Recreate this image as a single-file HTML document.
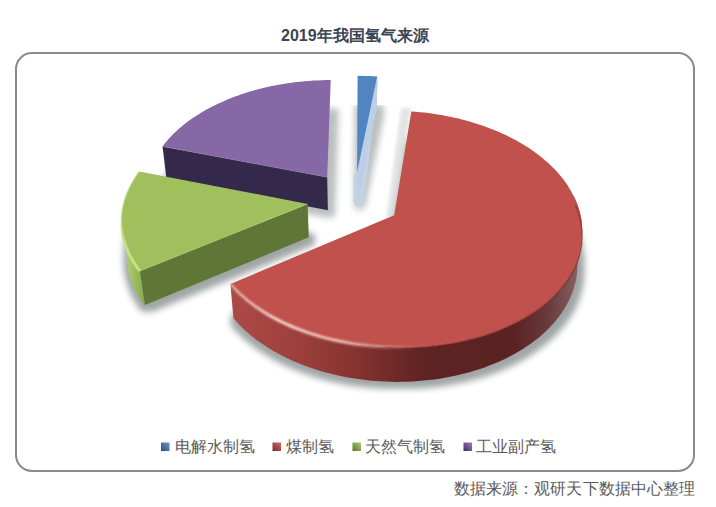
<!DOCTYPE html>
<html><head><meta charset="utf-8"><style>
html,body{margin:0;padding:0;background:#fff;}
body{width:716px;height:507px;position:relative;overflow:hidden;font-family:"Liberation Sans",sans-serif;}
.t{position:absolute;white-space:nowrap;line-height:1;}
.lg{font-size:16px;color:#5a5a5a;top:439px;}
</style></head><body>

<svg width="716" height="507" viewBox="0 0 716 507" style="position:absolute;left:0;top:0">
<defs>
 <filter id="sh" x="-30%" y="-30%" width="160%" height="160%"><feMorphology operator="dilate" radius="4.5"/><feGaussianBlur stdDeviation="3.2"/></filter>
 <filter id="bl1" x="-20%" y="-20%" width="140%" height="140%"><feGaussianBlur stdDeviation="0.7"/></filter>
 <filter id="bl3" x="-20%" y="-20%" width="140%" height="140%"><feGaussianBlur stdDeviation="0.9"/></filter>
 <filter id="bl2" x="-50%" y="-20%" width="200%" height="140%"><feGaussianBlur stdDeviation="1.5"/></filter>
 <clipPath id="shclip"><rect x="0" y="105" width="716" height="403"/></clipPath>
 <linearGradient id="redw" gradientUnits="userSpaceOnUse" x1="230" y1="0" x2="585" y2="0">
  <stop offset="0" stop-color="#ac4a46"/>
  <stop offset="0.2" stop-color="#9c3f3c"/>
  <stop offset="0.35" stop-color="#86332f"/>
  <stop offset="0.55" stop-color="#5e2322"/>
  <stop offset="0.8" stop-color="#5a2222"/>
  <stop offset="0.9" stop-color="#6a3c3c"/>
  <stop offset="1" stop-color="#8c6a6a"/>
 </linearGradient>
 <linearGradient id="redrim" gradientUnits="userSpaceOnUse" x1="230" y1="0" x2="420" y2="0">
  <stop offset="0" stop-color="#ffd8d0" stop-opacity="0.5"/>
  <stop offset="0.25" stop-color="#ffe0d8" stop-opacity="0.95"/>
  <stop offset="0.6" stop-color="#ffd8d0" stop-opacity="0.8"/>
  <stop offset="1" stop-color="#ffd0c8" stop-opacity="0"/>
 </linearGradient>
 <linearGradient id="greenrim" gradientUnits="userSpaceOnUse" x1="0" y1="215" x2="0" y2="272">
  <stop offset="0" stop-color="#c4e08a" stop-opacity="0"/>
  <stop offset="0.5" stop-color="#c8e490" stop-opacity="0.8"/>
  <stop offset="1" stop-color="#c8e490" stop-opacity="0.9"/>
 </linearGradient>
 <linearGradient id="greencw" gradientUnits="userSpaceOnUse" x1="122" y1="0" x2="145" y2="0">
  <stop offset="0" stop-color="#b8d47a"/>
  <stop offset="0.5" stop-color="#a0c060"/>
  <stop offset="1" stop-color="#86a64a"/>
 </linearGradient>
 <linearGradient id="mk_b" x1="0" y1="1" x2="1" y2="0"><stop offset="0" stop-color="#2c4d75"/><stop offset="1" stop-color="#6a9ad0"/></linearGradient>
 <linearGradient id="mk_r" x1="0" y1="1" x2="1" y2="0"><stop offset="0" stop-color="#7a2a28"/><stop offset="1" stop-color="#d06a66"/></linearGradient>
 <linearGradient id="mk_g" x1="0" y1="1" x2="1" y2="0"><stop offset="0" stop-color="#5a7530"/><stop offset="1" stop-color="#b0d070"/></linearGradient>
 <linearGradient id="mk_p" x1="0" y1="1" x2="1" y2="0"><stop offset="0" stop-color="#3e2e55"/><stop offset="1" stop-color="#9a80c0"/></linearGradient>
</defs>
<rect x="16" y="53" width="678" height="418" rx="16" ry="16" fill="#fff" stroke="#8a8a8a" stroke-width="2"/>
<g clip-path="url(#shclip)">
<g filter="url(#sh)" fill="#1a2a2a" opacity="0.30" transform="translate(2,2)">
<polygon points="327.9,210.2 166.5,179.0 168.4,176.4 170.5,173.8 172.6,171.2 174.9,168.7 177.2,166.2 179.6,163.8 182.2,161.4 184.8,159.1 187.5,156.8 190.3,154.5 193.1,152.3 196.1,150.2 199.1,148.1 202.2,146.0 205.4,144.1 208.6,142.1 211.9,140.2 215.3,138.4 218.7,136.6 222.2,134.9 225.8,133.2 229.4,131.6 233.0,130.1 236.8,128.6 240.5,127.2 244.3,125.8 248.2,124.5 252.1,123.3 256.1,122.1 260.0,121.0 264.0,119.9 268.1,118.9 272.2,118.0 276.3,117.1 280.4,116.3 284.6,115.6 288.8,114.9 293.0,114.3 297.2,113.7 301.4,113.2 305.7,112.8 309.9,112.5 314.2,112.2 318.5,111.9 322.8,111.8 327.0,111.7 331.3,111.6"/><polygon points="357.2,204.8 357.7,107.3 364.1,107.4 370.6,107.6 377.0,107.9"/>
</g>
<g filter="url(#sh)" fill="#1a2a2a" opacity="0.42" transform="translate(2,2)">
<polygon points="308.8,237.3 144.9,305.1 142.6,302.1 140.5,299.0 138.6,295.9 136.8,292.8 135.1,289.6 133.6,286.4 132.2,283.2 131.0,280.0 130.0,276.8 129.0,273.5 128.3,270.3 127.6,267.0 127.2,263.7 126.8,260.5 126.6,257.2 126.6,253.9 126.7,250.7 126.9,247.5 127.3,244.2 127.8,241.0 128.4,237.8 129.2,234.6 130.1,231.5 131.1,228.4 132.3,225.3 133.5,222.2 135.0,219.1 136.5,216.1 138.1,213.1 139.9,210.2 141.8,207.3 143.8,204.4"/><polygon points="393.5,248.7 410.4,143.5 414.7,143.8 419.0,144.2 423.3,144.7 427.5,145.2 431.8,145.8 436.0,146.5 440.2,147.2 444.4,148.0 448.5,148.9 452.7,149.8 456.8,150.8 460.8,151.9 464.9,153.0 468.9,154.2 472.9,155.4 476.8,156.7 480.7,158.1 484.5,159.5 488.3,161.0 492.1,162.6 495.8,164.2 499.4,165.8 503.0,167.6 506.5,169.4 510.0,171.2 513.4,173.1 516.8,175.1 520.0,177.1 523.3,179.1 526.4,181.3 529.5,183.4 532.5,185.7 535.4,188.0 538.2,190.3 541.0,192.7 543.7,195.1 546.3,197.6 548.8,200.1 551.2,202.7 553.5,205.3 555.7,207.9 557.9,210.6 559.9,213.4 561.8,216.2 563.6,219.0 565.4,221.8 567.0,224.7 568.5,227.6 569.9,230.6 571.2,233.6 572.3,236.6 573.4,239.6 574.3,242.7 575.2,245.7 575.9,248.8 576.4,252.0 576.9,255.1 577.2,258.2 577.4,261.4 577.5,264.6 577.4,267.8 577.2,270.9 576.9,274.1 576.4,277.3 575.8,280.5 575.1,283.7 574.2,286.9 573.2,290.1 572.1,293.2 570.8,296.4 569.4,299.5 567.9,302.6 566.2,305.7 564.4,308.8 562.5,311.8 560.4,314.8 558.1,317.8 555.8,320.7 553.3,323.6 550.7,326.5 547.9,329.3 545.0,332.1 542.0,334.8 538.9,337.5 535.6,340.1 532.3,342.6 528.7,345.1 525.1,347.6 521.4,349.9 517.5,352.2 513.6,354.5 509.5,356.6 505.3,358.7 501.1,360.7 496.7,362.7 492.2,364.5 487.7,366.3 483.0,367.9 478.3,369.5 473.5,371.0 468.6,372.4 463.7,373.8 458.7,375.0 453.6,376.1 448.4,377.1 443.3,378.1 438.0,378.9 432.8,379.6 427.5,380.3 422.1,380.8 416.8,381.2 411.4,381.5 406.0,381.7 400.5,381.8 395.1,381.8 389.7,381.8 384.3,381.5 378.9,381.2 373.5,380.8 368.1,380.3 362.8,379.7 357.4,379.0 352.2,378.2 346.9,377.2 341.7,376.2 336.6,375.1 331.5,373.9 326.4,372.6 321.5,371.2 316.6,369.7 311.7,368.1 307.0,366.5 302.3,364.7 297.7,362.9 293.2,360.9 288.8,358.9 284.5,356.9 280.3,354.7 276.2,352.5 272.2,350.2 268.3,347.8 264.5,345.4 260.9,342.9 257.3,340.4 253.9,337.7 250.6,335.1 247.4,332.4 244.3,329.6 241.4,326.8 238.6,323.9 235.9,321.0 233.4,318.1"/>
</g>
</g>
<polygon points="411,108 401,108 386,218 395,218" fill="#203030" opacity="0.12" filter="url(#bl2)" clip-path="url(#shclip)"/>
<polygon points="327.2,177.2 162.5,146.4 166.5,179.0 327.9,210.2" fill="#35294b"/>
<polygon points="327.2,177.2 162.5,146.4 164.5,143.8 166.6,141.3 168.8,138.8 171.1,136.3 173.5,133.8 176.0,131.4 178.6,129.1 181.3,126.8 184.0,124.5 186.9,122.3 189.8,120.1 192.8,118.0 195.9,116.0 199.1,113.9 202.3,112.0 205.6,110.1 209.0,108.2 212.4,106.4 216.0,104.7 219.5,103.0 223.2,101.4 226.8,99.8 230.6,98.3 234.4,96.8 238.2,95.4 242.1,94.1 246.0,92.8 250.0,91.5 254.0,90.4 258.1,89.3 262.2,88.2 266.3,87.3 270.5,86.3 274.7,85.5 278.9,84.7 283.1,84.0 287.4,83.3 291.7,82.7 296.0,82.1 300.3,81.7 304.6,81.3 309.0,80.9 313.3,80.6 317.7,80.4 322.0,80.2 326.4,80.1 330.7,80.1" fill="#8568a5"/>
<polyline points="162.5,146.4 327.2,177.2" fill="none" stroke="#9c86b8" stroke-width="1" opacity="0.4"/>
<polygon points="357,170 353.5,176 353.5,202 356,206 362,206 364.5,198 378,84 377,77" fill="#c4d3e3" filter="url(#bl1)"/>
<polygon points="357.1,171.9 377.2,76.5 377.0,107.9 357.2,204.8" fill="#bccfe6"/>
<polygon points="357.1,171.9 357.6,75.8 364.2,75.9 370.7,76.1 377.2,76.5" fill="#5185c2"/>
<polygon points="139.9,271.0 137.6,268.0 135.4,264.9 133.4,261.8 131.6,258.6 129.9,255.4 128.3,252.3 127.0,249.0 125.7,245.8 124.7,242.6 123.8,239.3 123.0,236.0 122.4,232.8 121.9,229.5 121.6,226.2 121.5,222.9 121.5,219.7 121.6,216.4 121.9,213.2 122.3,209.9 122.9,206.7 123.6,203.5 124.5,200.3 125.5,197.2 126.6,194.1 131.5,227.3 130.4,230.5 129.4,233.7 128.6,236.9 127.9,240.1 127.4,243.4 127.0,246.6 126.7,249.9 126.6,253.2 126.6,256.5 126.8,259.8 127.1,263.1 127.5,266.4 128.2,269.8 128.9,273.1 129.8,276.3 130.9,279.6 132.1,282.9 133.5,286.1 135.0,289.4 136.7,292.6 138.5,295.8 140.5,298.9 142.6,302.0 144.9,305.1" fill="url(#greencw)"/>
<polygon points="307.6,203.9 139.9,271.0 144.9,305.1 308.8,237.3" fill="#5f7637"/>
<polygon points="307.6,203.9 139.9,271.0 137.6,268.0 135.5,265.0 133.5,261.9 131.7,258.8 130.0,255.7 128.5,252.5 127.1,249.3 125.9,246.2 124.8,243.0 123.9,239.7 123.1,236.5 122.5,233.3 122.0,230.1 121.7,226.8 121.5,223.6 121.5,220.4 121.6,217.2 121.8,214.0 122.2,210.8 122.7,207.6 123.4,204.5 124.2,201.3 125.1,198.2 126.2,195.1 127.4,192.0 128.7,189.0 130.2,186.0 131.8,183.0 133.5,180.1 135.3,177.2 137.2,174.3 139.2,171.5" fill="#a0bf5d"/>
<polyline points="139.9,271.0 138.0,268.6 136.2,266.1 134.6,263.6 133.0,261.0 131.5,258.5 130.1,255.9 128.8,253.3 127.7,250.7 126.6,248.1 125.6,245.5 124.8,242.9 124.0,240.2 123.3,237.6 122.8,235.0 122.3,232.3 122.0,229.7 121.7,227.0 121.5,224.4 121.5,221.7 121.5,219.1 121.6,216.4 121.8,213.8 122.1,211.2 122.6,208.6 123.1,206.0 123.7,203.4 124.3,200.8 125.1,198.3 126.0,195.7 126.9,193.2 128.0,190.7 129.1,188.2 130.3,185.8 131.6,183.3 133.0,180.9 134.4,178.5 135.9,176.1 137.6,173.8 139.2,171.5" fill="none" stroke="#c0dc80" stroke-width="1.5" opacity="0.55" filter="url(#bl1)"/>
<polyline points="139.9,271.0 138.3,269.0 136.8,266.9 135.4,264.8 134.0,262.7 132.7,260.6 131.5,258.4 130.3,256.3 129.2,254.1 128.2,252.0 127.3,249.8 126.4,247.6 125.6,245.4 124.9,243.2 124.2,241.0 123.6,238.8 123.1,236.6 122.7,234.4 122.3,232.1 122.0,229.9 121.7,227.7 121.6,225.5 121.5,223.3 121.5,221.1 121.5,218.9 121.6,216.7 121.8,214.5 122.0,212.3 122.3,210.1 122.7,207.9" fill="none" stroke="url(#greenrim)" stroke-width="3" filter="url(#bl1)"/>
<polyline points="139.9,271.0 307.6,203.9" fill="none" stroke="#b8d480" stroke-width="1" opacity="0.6"/>
<polygon points="573.3,195.3 574.7,198.3 576.0,201.3 577.2,204.3 578.3,207.3 579.2,210.3 580.0,213.4 580.7,216.5 581.3,219.6 581.7,222.7 582.0,225.9 582.1,229.0 582.2,232.2 582.1,235.4 581.8,238.5 581.4,241.7 580.9,244.9 580.3,248.1 579.5,251.2 578.5,254.4 577.5,257.6 576.3,260.7 574.9,263.8 573.4,266.9 571.8,270.0 570.0,273.1 568.1,276.2 566.0,279.2 563.8,282.2 561.4,285.1 558.9,288.0 556.3,290.9 553.6,293.7 550.7,296.5 547.6,299.3 544.5,301.9 541.2,304.6 537.8,307.2 534.2,309.7 530.5,312.1 526.7,314.5 522.8,316.9 518.8,319.1 514.7,321.3 510.4,323.4 506.0,325.5 501.6,327.4 497.0,329.3 492.4,331.1 487.6,332.8 482.8,334.4 477.8,336.0 472.8,337.4 467.8,338.7 462.6,340.0 457.4,341.2 452.2,342.2 446.8,343.2 441.4,344.0 436.0,344.8 430.6,345.4 425.1,346.0 419.5,346.4 414.0,346.8 408.4,347.0 402.8,347.2 397.3,347.2 391.7,347.1 386.1,346.9 380.5,346.7 374.9,346.3 369.4,345.8 363.9,345.2 358.4,344.5 352.9,343.7 347.5,342.8 342.1,341.8 336.8,340.7 331.6,339.5 326.4,338.2 321.2,336.8 316.2,335.3 311.2,333.8 306.3,332.1 301.5,330.4 296.7,328.5 292.1,326.6 287.5,324.6 283.1,322.6 278.7,320.4 274.5,318.2 270.4,315.9 266.4,313.6 262.5,311.2 258.7,308.7 255.0,306.1 251.5,303.5 248.1,300.9 244.8,298.1 241.6,295.4 238.6,292.6 235.7,289.7 233.0,286.8 230.4,283.9 233.4,318.1 235.9,321.1 238.6,324.0 241.4,326.8 244.4,329.7 247.5,332.5 250.7,335.2 254.0,337.9 257.5,340.5 261.1,343.1 264.8,345.6 268.6,348.0 272.5,350.4 276.6,352.7 280.7,354.9 284.9,357.1 289.3,359.2 293.7,361.2 298.3,363.1 302.9,364.9 307.6,366.7 312.4,368.3 317.3,369.9 322.2,371.4 327.2,372.8 332.3,374.1 337.4,375.3 342.6,376.4 347.9,377.4 353.2,378.3 358.5,379.1 363.8,379.8 369.2,380.4 374.6,380.9 380.1,381.3 385.5,381.6 391.0,381.8 396.4,381.9 401.9,381.8 407.3,381.7 412.8,381.4 418.2,381.1 423.6,380.6 428.9,380.1 434.3,379.4 439.6,378.7 444.8,377.8 450.0,376.8 455.2,375.8 460.3,374.6 465.3,373.3 470.2,372.0 475.1,370.5 479.9,369.0 484.7,367.4 489.3,365.6 493.9,363.8 498.3,362.0 502.7,360.0 506.9,357.9 511.1,355.8 515.2,353.6 519.1,351.3 522.9,349.0 526.6,346.6 530.2,344.1 533.7,341.5 537.1,338.9 540.3,336.3 543.4,333.6 546.4,330.8 549.2,328.0 551.9,325.1 554.5,322.2 556.9,319.3 559.2,316.3 561.4,313.3 563.4,310.3 565.3,307.2 567.1,304.1 568.7,301.0 570.2,297.8 571.5,294.7 572.7,291.5 573.8,288.3 574.7,285.1 575.5,281.9 576.2,278.7 576.7,275.5 577.1,272.3 577.3,269.1 577.4,265.9 577.4,262.7 577.3,259.5 577.0,256.3 576.6,253.2 576.1,250.0 575.4,246.9 574.6,243.8 573.7,240.7 572.7,237.6 571.6,234.6 570.3,231.6 569.0,228.6" fill="url(#redw)"/>
<polygon points="575.2,199.2 576.5,202.4 577.7,205.6 578.8,208.9 579.7,212.2 580.5,215.5 581.1,218.8 581.6,222.1 581.9,225.5 582.1,228.9 582.2,232.3 582.0,235.7 581.8,239.1 581.3,242.5 580.7,245.9 580.0,249.3 579.1,252.7 578.0,256.0 576.8,259.4 575.4,262.8 573.8,266.1 572.1,269.4 570.2,272.7 568.2,276.0 566.0,279.2 563.6,282.4 561.1,285.5 558.4,288.7 555.5,291.7 552.5,294.7 549.4,297.7 546.1,300.6 542.6,303.5 539.0,306.3 535.2,309.0 531.3,311.6 527.3,314.2 523.1,316.7 518.8,319.1 514.4,321.5 509.8,323.7 505.1,325.9 500.3,328.0 495.4,329.9 490.4,331.8 485.2,333.6 480.0,335.3 474.7,336.9 469.3,338.4 463.8,339.7 458.2,341.0 452.6,342.1 446.9,343.2 441.1,344.1 435.3,344.9 429.5,345.6 423.6,346.1 417.7,346.6 411.7,346.9 405.7,347.1 405.7,348.1 411.7,348.0 417.7,347.7 423.6,347.4 429.5,346.9 435.3,346.3 441.1,345.6 446.9,344.7 452.6,343.8 458.2,342.7 463.8,341.5 469.3,340.2 474.7,338.9 480.0,337.4 485.2,335.8 490.4,334.0 495.4,332.2 500.3,330.3 505.1,328.3 509.8,326.3 514.4,324.1 518.8,321.8 523.1,319.5 527.3,317.1 531.3,314.6 535.2,312.0 539.0,309.4 542.6,306.7 546.1,303.9 549.4,301.1 552.5,298.2 555.5,295.2 558.4,292.3 561.1,289.2 563.6,286.2 566.0,283.0 568.2,279.9 570.2,276.7 572.1,273.5 573.8,270.3 575.4,267.0 576.8,263.7 578.0,260.5 579.1,257.1 580.0,253.8 580.7,250.5 581.3,247.2 581.8,243.9 582.0,240.6 582.2,237.2 582.1,233.9 581.9,230.6 581.6,227.4 581.1,224.1 580.5,220.9 579.7,217.6 578.8,214.4 577.7,211.1 576.5,207.9 575.2,204.7" fill="#b84c49" filter="url(#bl1)"/>
<polygon points="394.2,215.2 411.3,111.4 415.7,111.8 420.1,112.2 424.4,112.6 428.8,113.1 433.1,113.7 437.4,114.4 441.7,115.1 446.0,115.9 450.2,116.8 454.4,117.7 458.6,118.6 462.8,119.7 466.9,120.8 471.0,121.9 475.0,123.2 479.0,124.4 483.0,125.8 486.9,127.2 490.8,128.7 494.6,130.2 498.4,131.8 502.1,133.4 505.8,135.1 509.4,136.9 512.9,138.7 516.4,140.6 519.8,142.5 523.2,144.5 526.5,146.5 529.7,148.6 532.8,150.8 535.9,153.0 538.9,155.2 541.8,157.5 544.6,159.9 547.4,162.3 550.0,164.7 552.6,167.2 555.1,169.7 557.4,172.3 559.7,174.9 561.9,177.6 564.0,180.3 566.0,183.1 567.9,185.8 569.6,188.7 571.3,191.5 572.8,194.4 574.3,197.3 575.6,200.2 576.8,203.2 577.9,206.2 578.9,209.2 579.7,212.3 580.5,215.3 581.1,218.4 581.5,221.5 581.9,224.6 582.1,227.8 582.2,230.9 582.1,234.1 581.9,237.2 581.6,240.4 581.2,243.5 580.6,246.7 579.9,249.8 579.0,253.0 578.0,256.1 576.8,259.3 575.6,262.4 574.1,265.5 572.6,268.6 570.9,271.6 569.0,274.6 567.0,277.7 564.9,280.6 562.7,283.6 560.3,286.5 557.7,289.4 555.1,292.2 552.2,295.0 549.3,297.8 546.2,300.5 543.0,303.1 539.7,305.7 536.3,308.2 532.7,310.7 529.0,313.1 525.2,315.5 521.2,317.8 517.2,320.0 513.0,322.1 508.7,324.2 504.4,326.2 499.9,328.1 495.3,330.0 490.7,331.7 485.9,333.4 481.1,335.0 476.2,336.4 471.2,337.8 466.1,339.2 461.0,340.4 455.8,341.5 450.5,342.5 445.2,343.4 439.9,344.3 434.5,345.0 429.0,345.6 423.6,346.1 418.1,346.5 412.6,346.9 407.0,347.1 401.5,347.2 395.9,347.2 390.4,347.1 384.8,346.9 379.3,346.6 373.7,346.2 368.2,345.7 362.8,345.1 357.3,344.3 351.9,343.5 346.5,342.6 341.2,341.6 335.9,340.5 330.7,339.3 325.6,338.0 320.5,336.6 315.5,335.1 310.5,333.6 305.7,331.9 300.9,330.2 296.2,328.3 291.6,326.4 287.1,324.4 282.7,322.4 278.4,320.2 274.1,318.0 270.1,315.7 266.1,313.4 262.2,311.0 258.5,308.5 254.8,306.0 251.3,303.4 247.9,300.8 244.7,298.1 241.6,295.3 238.6,292.5 235.7,289.7 233.0,286.8 230.4,283.9" fill="#c0514d"/>
<polyline points="575.2,204.7 576.5,207.9 577.7,211.1 578.8,214.4 579.7,217.6 580.5,220.9 581.1,224.1 581.6,227.4 581.9,230.6 582.1,233.9 582.2,237.2 582.0,240.6 581.8,243.9 581.3,247.2 580.7,250.5 580.0,253.8 579.1,257.1 578.0,260.5 576.8,263.7 575.4,267.0 573.8,270.3 572.1,273.5 570.2,276.7 568.2,279.9 566.0,283.0 563.6,286.2 561.1,289.2 558.4,292.3 555.5,295.2 552.5,298.2 549.4,301.1 546.1,303.9 542.6,306.7 539.0,309.4 535.2,312.0 531.3,314.6 527.3,317.1 523.1,319.5 518.8,321.8 514.4,324.1 509.8,326.3 505.1,328.3 500.3,330.3 495.4,332.2 490.4,334.0 485.2,335.8 480.0,337.4 474.7,338.9 469.3,340.2 463.8,341.5 458.2,342.7 452.6,343.8 446.9,344.7 441.1,345.6 435.3,346.3 429.5,346.9 423.6,347.4 417.7,347.7 411.7,348.0 405.7,348.1" fill="none" stroke="#6a2222" stroke-width="1.2" opacity="0.5" filter="url(#bl1)"/>
<polyline points="501.3,327.5 496.9,329.3 492.4,331.1 487.8,332.7 483.2,334.3 478.4,335.8 473.6,337.2 468.7,338.5 463.8,339.7 458.8,340.9 453.7,341.9 448.6,342.9 443.4,343.7 438.2,344.5 432.9,345.2 427.6,345.8 422.3,346.2 417.0,346.6 411.6,346.9 406.2,347.1 400.8,347.2 395.4,347.2 390.0,347.1 384.6,346.9 379.3,346.6 373.9,346.2 368.6,345.7 363.2,345.1 357.9,344.4 352.7,343.7 347.4,342.8 342.3,341.8 337.1,340.8 332.1,339.6 327.0,338.4 322.1,337.1 317.2,335.6 312.3,334.1 307.6,332.6 302.9,330.9 298.3,329.2 293.8,327.4 289.4,325.5 285.0,323.5 280.8,321.5 276.7,319.4 272.6,317.2 268.7,315.0 264.8,312.7 261.1,310.3 257.5,307.9 254.0,305.4 250.6,302.9 247.4,300.3 244.2,297.7 241.2,295.0 238.3,292.3 235.5,289.5 232.9,286.7 230.4,283.9" fill="none" stroke="url(#redrim)" stroke-width="3" filter="url(#bl3)"/>
<rect x="161" y="442.5" width="8.5" height="8.5" fill="url(#mk_b)"/>
<rect x="272.5" y="442.5" width="8.5" height="8.5" fill="url(#mk_r)"/>
<rect x="352.5" y="442.5" width="8.5" height="8.5" fill="url(#mk_g)"/>
<rect x="463.5" y="442.5" width="8.5" height="8.5" fill="url(#mk_p)"/>
</svg>
<div class="t" style="left:281px;top:28px;font-size:16px;font-weight:bold;color:#3b4556;">2019年我国氢气来源</div>
<div class="t lg" style="left:175px;">电解水制氢</div>
<div class="t lg" style="left:286px;">煤制氢</div>
<div class="t lg" style="left:364.5px;">天然气制氢</div>
<div class="t lg" style="left:476px;">工业副产氢</div>
<div class="t" style="left:454px;top:481px;font-size:16px;letter-spacing:0.07px;color:#5a5a5a;">数据来源：观研天下数据中心整理</div>
</body></html>
